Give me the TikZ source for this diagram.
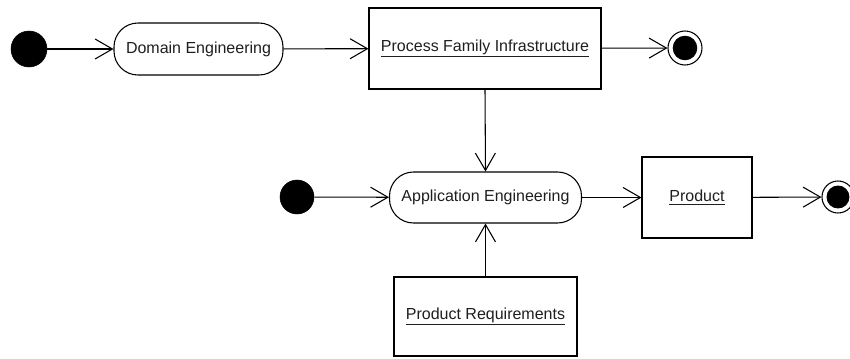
\documentclass[tikz,border=0pt]{standalone}
\usepackage{fontspec}
\setmainfont{Liberation Sans}
\usetikzlibrary{arrows.meta}
\tikzset{
  every node/.style={font=\fontsize{12pt}{14pt}\selectfont, text=black!88},
  startdot/.style={circle, fill=black, draw=black, minimum size=#1, inner sep=0pt},
  finaldot/.style={circle, draw=black, line width=0.8pt, fill=white, minimum size=#1, inner sep=0pt},
  activity/.style={draw=black, line width=0.8pt, rounded corners=18pt, fill=white, inner sep=0pt},
  objbox/.style={draw=black, line width=0.8pt, fill=white, inner sep=0pt},
  flow/.style={draw=black, line width=0.8pt, -{Straight Barb[length=13pt,width=15pt,line width=0.8pt]}},
}
\newcommand{\ul}[1]{\underline{#1}}
\begin{document}
\begin{tikzpicture}[x=0.75pt,y=-0.75pt]
  \useasboundingbox[fill=white] (0,0) rectangle (850,358);
  \clip (0,0) rectangle (850,358);

  % upper row: domain engineering
  \node[startdot=27pt] (s1) at (29,49) {};
  \node[activity, minimum width=126.75pt, minimum height=39pt] (de) at (198.5,49) {Domain Engineering};
  \node[objbox, minimum width=174pt, minimum height=60.75pt] (pfi) at (485,48.5) {\ul{Process Family Infrastructure}};
  \node[finaldot=25.5pt] (f1) at (685,48) {};
  \fill[black] (f1.center) circle[radius=9.2pt];

  % lower row: application engineering
  \node[startdot=25.5pt] (s2) at (297,197) {};
  \node[activity, minimum width=144pt, minimum height=38.25pt] (ae) at (485.5,197.5) {Application Engineering};
  \node[objbox, minimum width=82.5pt, minimum height=60.75pt] (prod) at (697,197.5) {\ul{Product}};
  \node[finaldot=24pt] (f2) at (838,197) {};
  \fill[black] (f2.center) circle[radius=8.6pt];
  \node[objbox, minimum width=137.25pt, minimum height=59.25pt] (pr) at (485.5,316.5) {\ul{Product Requirements}};

  % control and object flows
  \draw[flow] (s1) -- (de);
  \draw[flow] (de) -- (pfi);
  \draw[flow] (pfi) -- (f1);
  \draw[flow] (pfi.south) -- (ae.north);
  \draw[flow] (s2) -- (ae);
  \draw[flow] (ae) -- (prod);
  \draw[flow] (prod) -- (f2);
  \draw[flow] (pr.north) -- (ae.south);
\end{tikzpicture}
\end{document}
